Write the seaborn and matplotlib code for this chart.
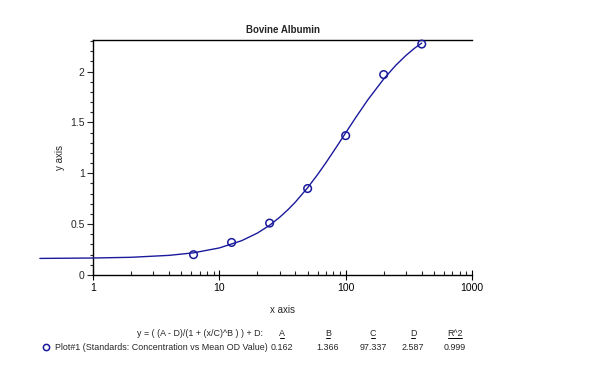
import matplotlib
matplotlib.use("Agg")
import matplotlib.pyplot as plt
import matplotlib.ticker as mticker
from matplotlib.lines import Line2D
import seaborn as sns
import pandas as pd
import numpy as np

# Standards (points)
conc = [6.25, 12.5, 25, 50, 100, 200, 400]
od = [0.20, 0.32, 0.51, 0.85, 1.37, 1.97, 2.27]

# Fitted curve
curve_x = [0.38, 1, 2, 4, 6.25, 10, 15, 20, 25, 30, 35, 40, 50, 60, 70, 85,
           100, 120, 150, 200, 250, 300, 350, 400]
curve_y = [0.163, 0.167, 0.174, 0.193, 0.218, 0.266, 0.337, 0.412, 0.489, 0.567,
           0.643, 0.717, 0.858, 0.988, 1.106, 1.263, 1.397, 1.547, 1.723, 1.927,
           2.063, 2.158, 2.228, 2.280]

param_names = ["A", "B", "C", "D", "R^2"]
param_values = ["0.162", "1.366", "97.337", "2.587", "0.999"]
formula = "y = ( (A - D)/(1 + (x/C)^B ) ) + D:"
series_label = "Plot#1 (Standards: Concentration vs Mean OD Value)"
title = "Bovine Albumin"

sns.set_theme(style="white")
plt.rcParams["font.family"] = ["Liberation Sans", "DejaVu Sans"]
plt.rcParams["font.size"] = 7.5

W, H = 614, 372
fig = plt.figure(figsize=(W / 100, H / 100), dpi=100)
ax = fig.add_axes([93 / W, 1 - 275 / H, (472 - 93) / W, (275 - 40) / H])

navy = "#1a1a9c"
df_curve = pd.DataFrame({"x": curve_x, "y": curve_y})
df_pts = pd.DataFrame({"x": conc, "y": od})

sns.lineplot(data=df_curve, x="x", y="y", ax=ax, color=navy, lw=1.0,
             sort=False, clip_on=False, zorder=3)
sns.scatterplot(data=df_pts, x="x", y="y", ax=ax, marker="o", s=30,
                facecolor="none", edgecolor=navy, linewidth=1.1, zorder=4,
                clip_on=False)

ax.set_xscale("log")
ax.set_xlim(1, 1000)
ax.set_ylim(0, 2.31)
ax.set_xticks([1, 10, 100, 1000])
ax.xaxis.set_major_formatter(mticker.FuncFormatter(lambda v, p: f"{v:g}"))
ax.xaxis.set_minor_locator(mticker.LogLocator(base=10, subs=np.arange(2, 10)))
ax.xaxis.set_minor_formatter(mticker.NullFormatter())
ax.set_yticks([0, 0.5, 1, 1.5, 2])
ax.yaxis.set_major_formatter(mticker.FuncFormatter(lambda v, p: f"{v:g}"))
ax.yaxis.set_minor_locator(mticker.MultipleLocator(0.1))

ax.tick_params(axis="x", which="major", direction="inout", length=7, width=0.8,
               labelsize=7.5, pad=2, bottom=True, colors="black")
ax.tick_params(axis="x", which="minor", direction="in", length=3, width=0.8,
               bottom=True)
ax.tick_params(axis="y", which="major", direction="out", length=4, width=0.8,
               labelsize=7.5, pad=2, left=True)
ax.tick_params(axis="y", which="minor", direction="out", length=2, width=0.8,
               left=True)

for side in ["left", "bottom", "top"]:
    ax.spines[side].set_visible(True)
    ax.spines[side].set_color("black")
    ax.spines[side].set_linewidth(1.0)
ax.spines["right"].set_visible(False)

ax.set_xlabel("x axis", fontsize=7, labelpad=9)
ax.set_ylabel("y axis", fontsize=7, labelpad=4)
ax.set_title(title, fontsize=7, fontweight="bold", pad=5)

# Fit parameters table under the plot
def fx(px):
    return px / W

def fy(py):
    return 1 - py / H

fs = 6.4
fig.text(fx(263), fy(333), formula, ha="right", va="center", fontsize=fs)
col_x = [282, 328, 373, 413, 455]
for name, val, cx in zip(param_names, param_values, col_x):
    fig.text(fx(cx), fy(333), name, ha="center", va="center", fontsize=fs)
    fig.text(fx(cx), fy(348), val, ha="center", va="center", fontsize=fs)
    half = 2.4 * len(name)
    fig.add_artist(Line2D([fx(cx - half), fx(cx + half)], [fy(338), fy(338)],
                          color="black", lw=0.7))

handle = Line2D([], [], marker="o", linestyle="none", markersize=4.5,
                markerfacecolor="none", markeredgecolor=navy, markeredgewidth=1.1)
fig.legend([handle], [series_label], loc="center left",
           bbox_to_anchor=(fx(42), fy(348)), frameon=False, fontsize=fs,
           handlelength=1.0, handletextpad=0.5, borderpad=0, borderaxespad=0)

fig.savefig("out.png", dpi=100, facecolor="white")
